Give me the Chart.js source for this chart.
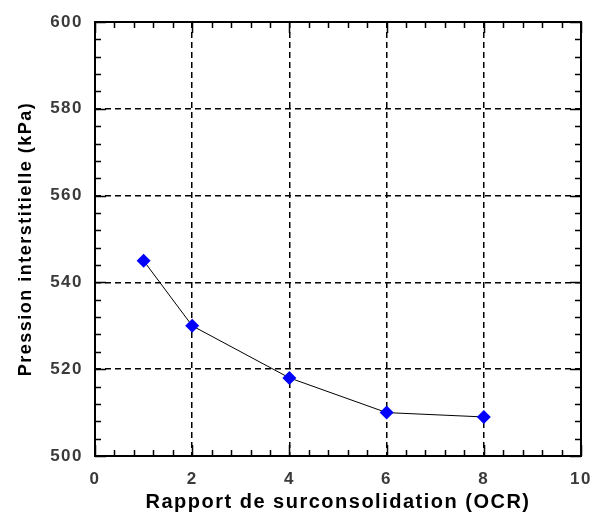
<!DOCTYPE html>
<html>
<head>
<meta charset="utf-8">
<script src="https://cdn.jsdelivr.net/npm/chart.js@4/dist/chart.umd.min.js"></script>
<style>
  html, body { margin: 0; padding: 0; background: #fff; }
  #wrap { width: 590px; height: 514px; }
</style>
</head>
<body>
<div id="wrap"><canvas id="chart" width="590" height="514"></canvas></div>
<script>
const ocr = [1, 2, 4, 6, 8];
const pressure = [545, 530, 518, 510, 509];

const xTicks = [0, 2, 4, 6, 8, 10];
const yTicks = [500, 520, 540, 560, 580, 600];
const xMinorStep = 0.4;
const yMinorStep = 4;

// frame + inward tick marks on all four sides, like the original plot
const framePlugin = {
  id: 'frame',
  beforeDraw(chart) {
    chart.ctx.letterSpacing = '1.5px';
  },
  afterDraw(chart) {
    const { ctx, chartArea: a, scales } = chart;
    const xs = scales.x, ys = scales.y;
    ctx.save();
    ctx.strokeStyle = '#000';
    ctx.lineWidth = 2;
    ctx.strokeRect(a.left, a.top, a.right - a.left, a.bottom - a.top);

    ctx.lineWidth = 1.5;
    ctx.beginPath();
    for (let v = xs.min; v <= xs.max + 1e-9; v += xMinorStep) {
      const px = Math.round(xs.getPixelForValue(v)) + 0.5;
      const len = xTicks.some(t => Math.abs(t - v) < 1e-6) ? 11 : 6;
      ctx.moveTo(px, a.bottom); ctx.lineTo(px, a.bottom - len);
      ctx.moveTo(px, a.top); ctx.lineTo(px, a.top + len);
    }
    for (let v = ys.min; v <= ys.max + 1e-9; v += yMinorStep) {
      const py = Math.round(ys.getPixelForValue(v)) + 0.5;
      const len = yTicks.some(t => Math.abs(t - v) < 1e-6) ? 11 : 6;
      ctx.moveTo(a.left, py); ctx.lineTo(a.left + len, py);
      ctx.moveTo(a.right, py); ctx.lineTo(a.right - len, py);
    }
    ctx.stroke();
    ctx.restore();
  }
};

const tickFont = { family: 'Arial, "Liberation Sans", sans-serif', size: 17, weight: 'bold' };

new Chart(document.getElementById('chart'), {
  type: 'scatter',
  data: {
    datasets: [{
      data: ocr.map((x, i) => ({ x, y: pressure[i] })),
      showLine: true,
      borderColor: '#000',
      borderWidth: 1,
      backgroundColor: '#0000ff',
      pointBackgroundColor: '#0000ff',
      pointBorderColor: '#0000ff',
      pointStyle: 'rectRot',
      pointRadius: 7,
      pointBorderWidth: 0,
      tension: 0,
    }],
  },
  options: {
    responsive: false,
    animation: false,
    events: [],
    layout: { padding: { top: 22, right: 9, left: 0, bottom: 0 } },
    plugins: {
      legend: { display: false },
      tooltip: { enabled: false },
    },
    scales: {
      x: {
        type: 'linear',
        min: 0,
        max: 10,
        afterBuildTicks: s => { s.ticks = xTicks.map(value => ({ value })); },
        afterFit: s => { s.height = 58; s.paddingLeft = 0; s.paddingRight = 0; },
        grid: { color: '#000', lineWidth: 1.5, drawTicks: false },
        border: { display: false, dash: [6, 4] },
        ticks: { padding: 13, color: '#3a3a3a', font: tickFont },
        title: {
          display: true,
          text: 'Rapport de surconsolidation (OCR)',
          color: '#000',
          padding: { top: 0, bottom: 0 },
          font: { family: 'Arial, "Liberation Sans", sans-serif', size: 20, weight: 'bold' },
        },
      },
      y: {
        type: 'linear',
        min: 500,
        max: 600,
        afterBuildTicks: s => { s.ticks = yTicks.map(value => ({ value })); },
        afterFit: s => { s.width = 95; s.paddingTop = 0; s.paddingBottom = 0; },
        grid: { color: '#000', lineWidth: 1.5, drawTicks: false },
        border: { display: false, dash: [6, 4] },
        ticks: { padding: 12, color: '#3a3a3a', font: tickFont },
        title: {
          display: true,
          text: 'Pression interstitielle (kPa)',
          color: '#000',
          padding: { top: 15, bottom: 0 },
          font: { family: 'Arial, "Liberation Sans", sans-serif', size: 18, weight: 'bold' },
        },
      },
    },
  },
  plugins: [framePlugin],
});
</script>
</body>
</html>
